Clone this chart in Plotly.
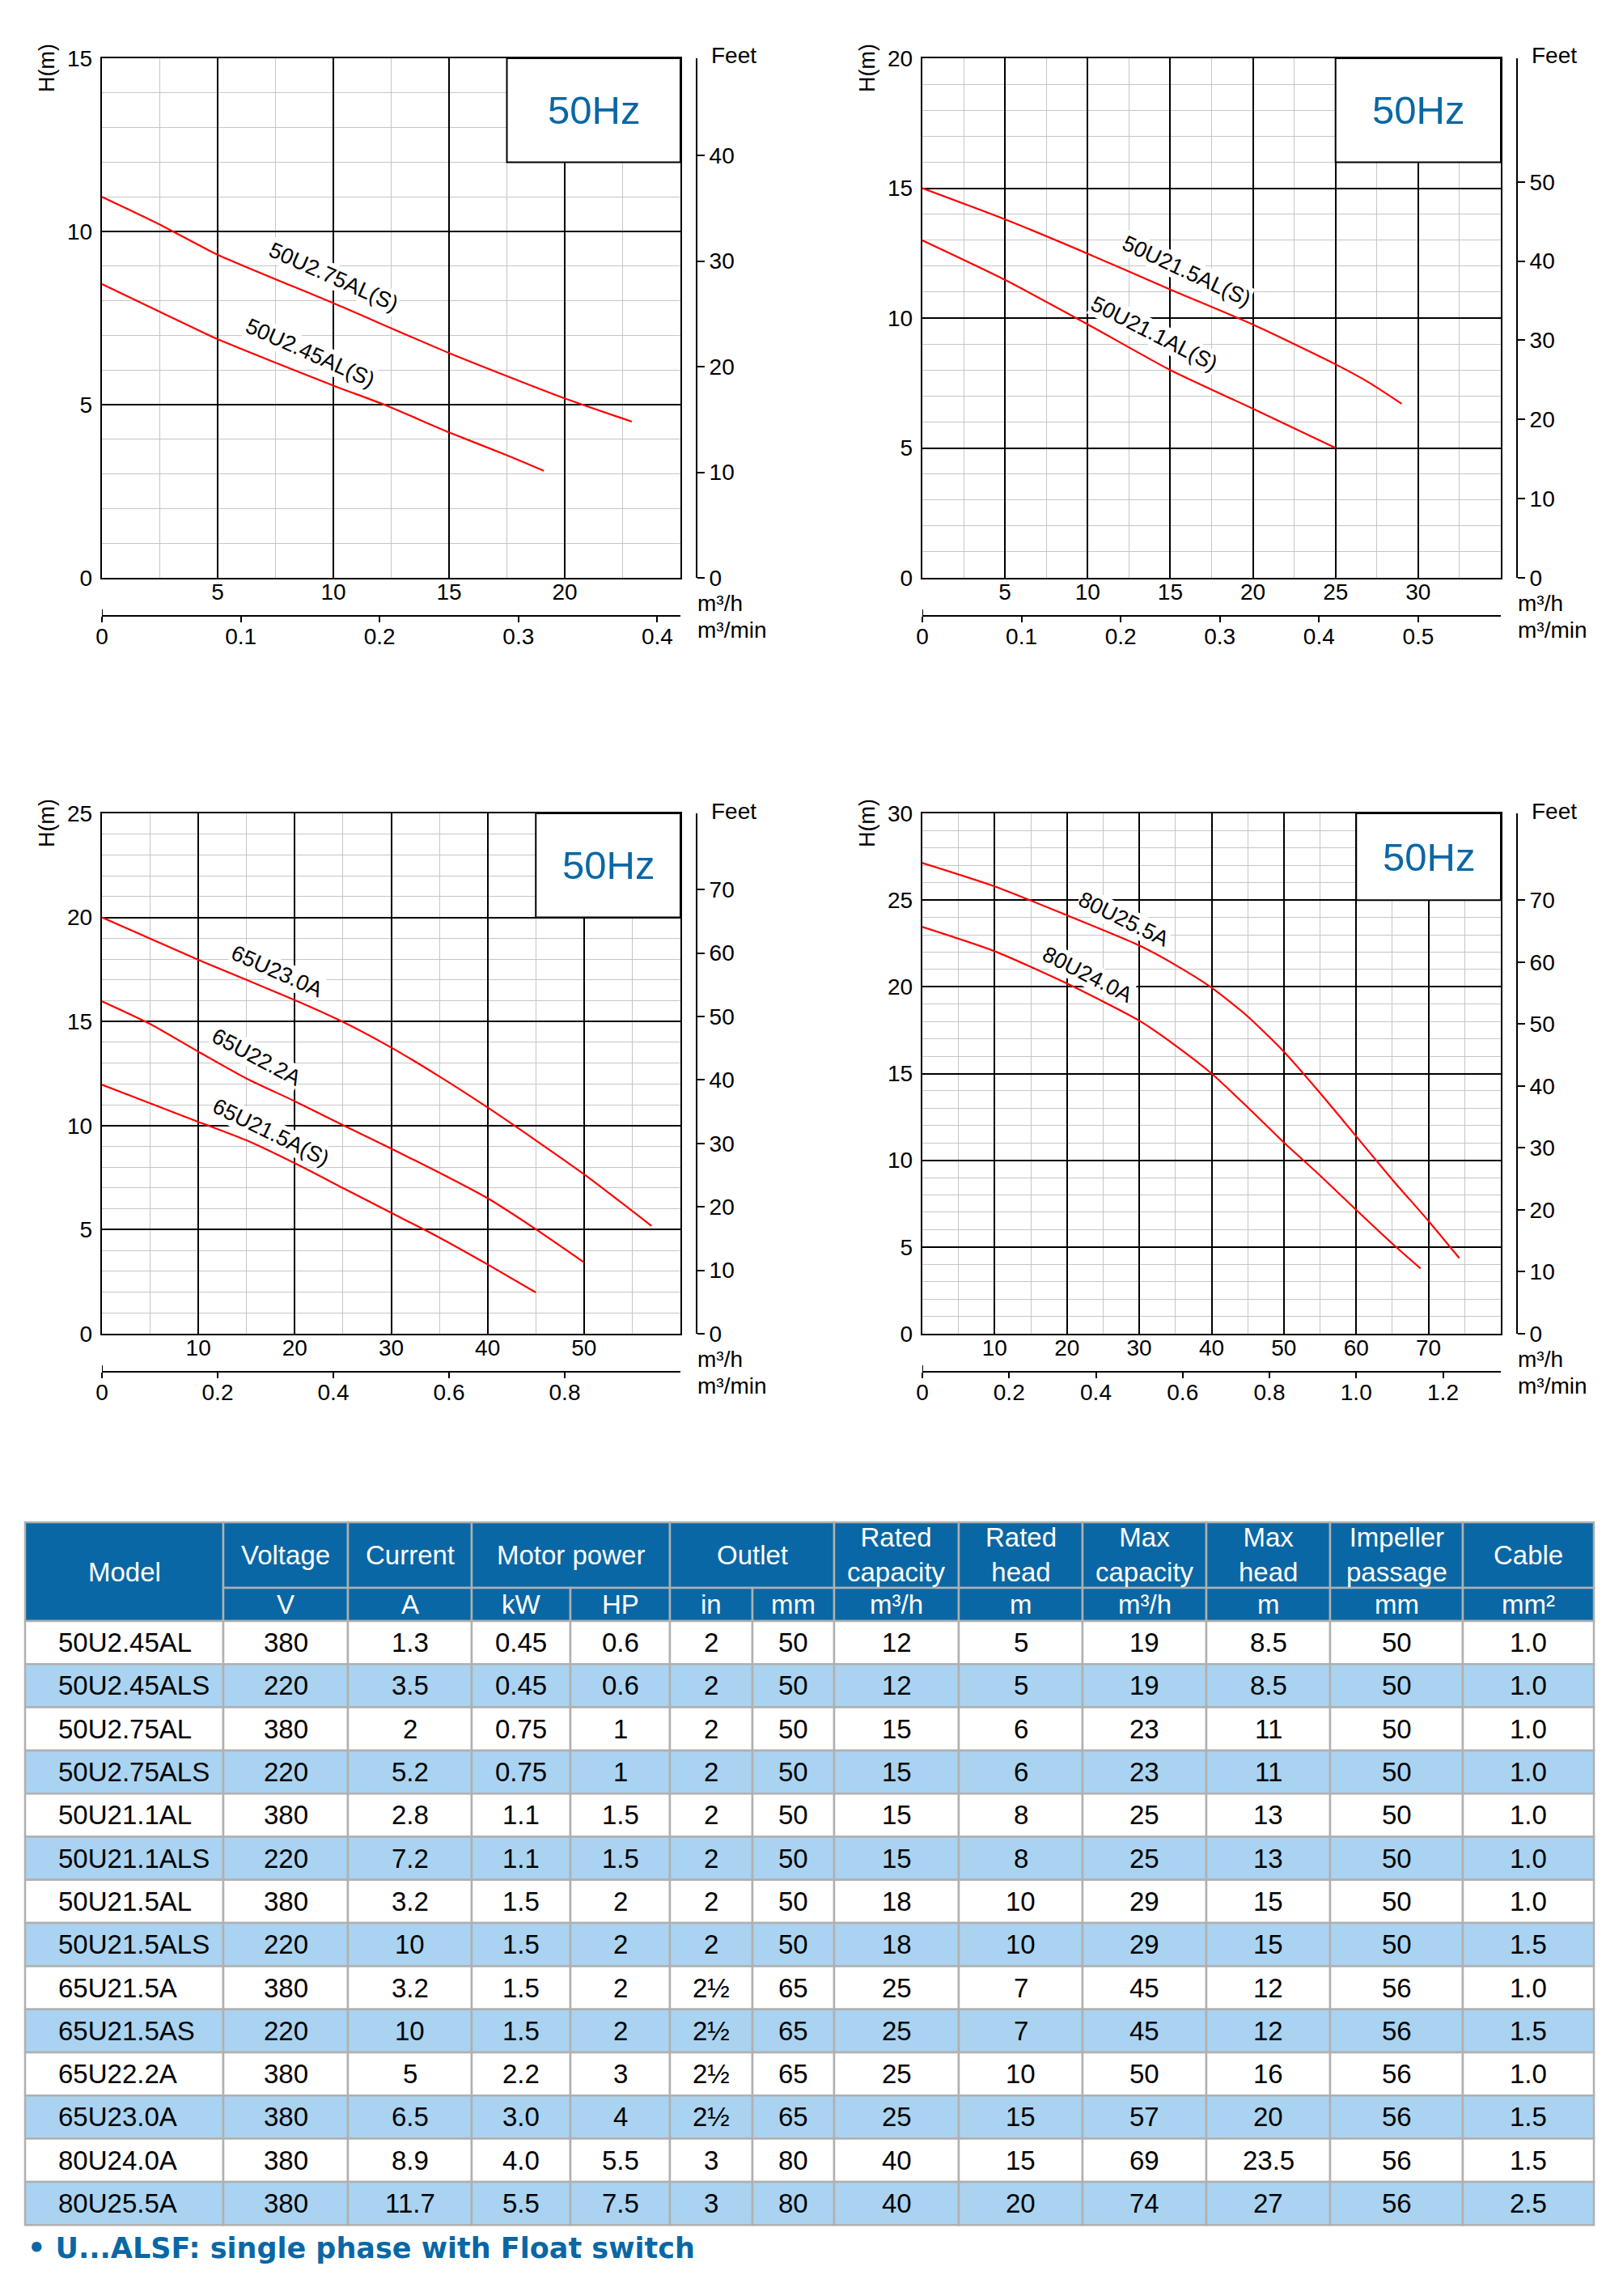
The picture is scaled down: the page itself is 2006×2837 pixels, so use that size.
import plotly.graph_objects as go

# ---------------------------------------------------------------- curve data
# chart 1 : 50U2 series
Q_50U275 = [0, 2.5, 5, 10, 15, 20, 22.9]
H_50U275 = [11.0, 10.2, 9.33, 7.93, 6.49, 5.18, 4.51]
Q_50U245 = [0, 2.5, 5, 10, 12.2, 15, 17.5, 19.1]
H_50U245 = [8.48, 7.68, 6.89, 5.55, 5.0, 4.2, 3.54, 3.09]

# chart 2 : 50U21 series
Q_50U215 = [0, 5, 10, 15, 20, 25, 27.1, 29.0]
H_50U215 = [15.0, 13.8, 12.48, 11.1, 9.75, 8.22, 7.49, 6.7]
Q_50U211 = [0, 5, 10, 15, 20, 25]
H_50U211 = [12.99, 11.47, 9.76, 8.0, 6.51, 5.0]

# chart 3 : 65U2 series
Q_65U230 = [0, 10, 20, 25, 30, 35, 40, 45, 50, 57.0]
H_65U230 = [20.0, 17.96, 16.03, 14.98, 13.75, 12.36, 10.87, 9.29, 7.66, 5.18]
Q_65U222 = [0, 5, 10, 15, 20, 25, 30, 35, 40, 45, 50]
H_65U222 = [15.97, 14.88, 13.55, 12.26, 11.17, 10.02, 8.89, 7.74, 6.51, 5.02, 3.43]
Q_65U215 = [0, 5, 10, 15, 20, 25, 30, 35, 40, 45]
H_65U215 = [11.96, 11.07, 10.18, 9.29, 8.19, 7.0, 5.81, 4.62, 3.33, 1.98]

# chart 4 : 80U2 series
Q_80U255 = [0, 10, 20, 30, 35, 40, 45, 50, 55, 60, 65, 70, 74.25]
H_80U255 = [27.14, 25.79, 24.12, 22.38, 21.26, 19.95, 18.29, 16.26, 13.88, 11.38, 8.88, 6.5, 4.36]
Q_80U240 = [0, 10, 20, 30, 35, 40, 45, 50, 55, 60, 65, 68.9]
H_80U240 = [23.45, 22.05, 20.19, 18.05, 16.62, 15.0, 13.05, 11.02, 9.12, 7.14, 5.19, 3.76]

CURVE_NAMES = [
    ["50U2.75AL(S)", "50U2.45AL(S)"],
    ["50U21.5AL(S)", "50U21.1AL(S)"],
    ["65U23.0A", "65U22.2A", "65U21.5A(S)"],
    ["80U25.5A", "80U24.0A"],
]
CURVES = [
    [(Q_50U275, H_50U275), (Q_50U245, H_50U245)],
    [(Q_50U215, H_50U215), (Q_50U211, H_50U211)],
    [(Q_65U230, H_65U230), (Q_65U222, H_65U222), (Q_65U215, H_65U215)],
    [(Q_80U255, H_80U255), (Q_80U240, H_80U240)],
]

# axis ranges and tick labels
Q_MAX = [25, 35, 60, 80]
H_MAX = [15, 20, 25, 30]
Q_TICKS = [[5, 10, 15, 20], [5, 10, 15, 20, 25, 30], [10, 20, 30, 40, 50], [10, 20, 30, 40, 50, 60, 70]]
H_DTICK = [5, 5, 5, 5]
MIN_TICKS = [
    ["0", "0.1", "0.2", "0.3", "0.4"],
    ["0", "0.1", "0.2", "0.3", "0.4", "0.5"],
    ["0", "0.2", "0.4", "0.6", "0.8"],
    ["0", "0.2", "0.4", "0.6", "0.8", "1.0", "1.2"],
]
FEET_TICKS = [
    [0, 10, 20, 30, 40],
    [0, 10, 20, 30, 40, 50],
    [0, 10, 20, 30, 40, 50, 60, 70],
    [0, 10, 20, 30, 40, 50, 60, 70],
]
FEET_PER_M = [3.2808, 3.2808, 3.2808, 2.8]  # chart 4 scale as printed

# ---------------------------------------------------------------- table data
MODELS = ["50U2.45AL", "50U2.45ALS", "50U2.75AL", "50U2.75ALS", "50U21.1AL", "50U21.1ALS",
          "50U21.5AL", "50U21.5ALS", "65U21.5A", "65U21.5AS", "65U22.2A", "65U23.0A",
          "80U24.0A", "80U25.5A"]
VOLTAGE = ["380", "220", "380", "220", "380", "220", "380", "220", "380", "220", "380", "380", "380", "380"]
CURRENT = ["1.3", "3.5", "2", "5.2", "2.8", "7.2", "3.2", "10", "3.2", "10", "5", "6.5", "8.9", "11.7"]
POWER_KW = ["0.45", "0.45", "0.75", "0.75", "1.1", "1.1", "1.5", "1.5", "1.5", "1.5", "2.2", "3.0", "4.0", "5.5"]
POWER_HP = ["0.6", "0.6", "1", "1", "1.5", "1.5", "2", "2", "2", "2", "3", "4", "5.5", "7.5"]
OUTLET_IN = ["2", "2", "2", "2", "2", "2", "2", "2", "2½", "2½", "2½", "2½", "3", "3"]
OUTLET_MM = ["50", "50", "50", "50", "50", "50", "50", "50", "65", "65", "65", "65", "80", "80"]
RATED_CAP = ["12", "12", "15", "15", "15", "15", "18", "18", "25", "25", "25", "25", "40", "40"]
RATED_HEAD = ["5", "5", "6", "6", "8", "8", "10", "10", "7", "7", "10", "15", "15", "20"]
MAX_CAP = ["19", "19", "23", "23", "25", "25", "29", "29", "45", "45", "50", "57", "69", "74"]
MAX_HEAD = ["8.5", "8.5", "11", "11", "13", "13", "15", "15", "12", "12", "16", "20", "23.5", "27"]
IMPELLER = ["50", "50", "50", "50", "50", "50", "50", "50", "56", "56", "56", "56", "56", "56"]
CABLE = ["1.0", "1.0", "1.0", "1.0", "1.0", "1.0", "1.0", "1.5", "1.0", "1.5", "1.0", "1.5", "1.5", "2.5"]
TABLE_COLUMNS = [MODELS, VOLTAGE, CURRENT, POWER_KW, POWER_HP, OUTLET_IN, OUTLET_MM,
                 RATED_CAP, RATED_HEAD, MAX_CAP, MAX_HEAD, IMPELLER, CABLE]

HEADER_LABELS = ["Model", "Voltage", "Current", "Motor power", "Outlet", "Rated<br>capacity",
                 "Rated<br>head", "Max<br>capacity", "Max<br>head", "Impeller<br>passage", "Cable"]
HEADER_UNITS = ["", "V", "A", "kW", "HP", "in", "mm", "m³/h", "m", "m³/h", "m", "mm", "mm²"]
FOOTNOTE = "• U...ALSF: single phase with Float switch"

# ---------------------------------------------------------------- layout / style
PAGE_W, PAGE_H = 2006, 2837
BODY_MARGIN = 8  # default html body margin around the plot div
FIG_W, FIG_H = PAGE_W - 2 * BODY_MARGIN, PAGE_H - 2 * BODY_MARGIN
FONT = "Liberation Sans, Arial, sans-serif"
RED = "#ff0000"
BLUE = "#0a67a5"
LIGHT_BLUE = "#a9d3f0"
GRID_GREY = "#c6c6c6"
CELL_LINE = "#b0b0b0"

# plot areas in page pixels: left, top, right, bottom
PLOT_BOXES = [(126, 72, 841, 714), (1140, 72, 1855, 714), (126, 1005, 841, 1648), (1140, 1005, 1855, 1648)]
Q_MINOR = [2.5, 2.5, 5, 5]
HZ_BOX = [(17.5, 25, 12, 15), (25, 35, 16, 20), (45, 60, 20, 25), (60, 80, 25, 30)]
LABEL_POS = [
    [(10.0, 8.7, 24), (9.0, 6.5, 24)],
    [(16.0, 11.8, 25), (14.0, 9.4, 27)],
    [(18.1, 17.4, 24), (16.0, 13.3, 28), (17.5, 9.7, 26)],
    [(27.9, 23.9, 26), (22.8, 20.7, 27)],
]

# table geometry (page pixels)
COL_W = [245, 154, 153, 122, 123, 102, 101, 154, 153, 153, 153, 164, 162]
HEADER_SPANS = [(0, 1), (1, 2), (2, 3), (3, 5), (5, 7), (7, 8), (8, 9), (9, 10), (10, 11), (11, 12), (12, 13)]
TABLE_X0, TABLE_Y0 = 31, 1881
HEAD1_H, HEAD2_H, ROW_H = 81, 41, 53.3


def px(x):
    return (x - BODY_MARGIN) / FIG_W


def py(y):
    return 1 - (y - BODY_MARGIN) / FIG_H


def paper_text(x, y, s, size=28, color="black", xanchor="center", angle=0, family=FONT):
    return dict(xref="paper", yref="paper", x=px(x), y=py(y), text=s, textangle=angle,
                xanchor=xanchor, yanchor="middle", showarrow=False,
                font=dict(family=family, size=size, color=color))


fig = go.Figure()
layout = {}
shapes = []
annotations = []

for k in range(4):
    left, top, right, bottom = PLOT_BOXES[k]
    xa, ya = f"x{k + 1}", f"y{k + 1}"
    xm, yf = f"x{k + 5}", f"y{k + 5}"
    xdom = [px(left), px(right)]
    ydom = [py(bottom), py(top)]

    for (q, h), name in zip(CURVES[k], CURVE_NAMES[k]):
        fig.add_trace(go.Scatter(
            x=q, y=h, mode="lines", name=name, xaxis=xa, yaxis=ya,
            line=dict(color=RED, width=2.2, shape="spline", smoothing=0.6),
            showlegend=False, hoverinfo="skip",
        ))
    # carriers for the secondary scales
    fig.add_trace(go.Scatter(x=[None], y=[None], xaxis=xm, yaxis=ya, showlegend=False, hoverinfo="skip"))
    fig.add_trace(go.Scatter(x=[None], y=[None], xaxis=xa, yaxis=yf, showlegend=False, hoverinfo="skip"))

    tick_font = dict(family=FONT, size=28, color="black")
    layout[f"xaxis{k + 1}"] = dict(
        domain=xdom, anchor=ya, range=[0, Q_MAX[k]], tickmode="array", tickvals=Q_TICKS[k],
        showgrid=True, gridcolor="black", gridwidth=1.8,
        minor=dict(tick0=0, dtick=Q_MINOR[k], showgrid=True, gridcolor=GRID_GREY, gridwidth=1.2),
        showline=True, linecolor="black", linewidth=2.4, mirror=True, ticks="",
        ticklabelstandoff=-9, tickfont=tick_font, zeroline=False, fixedrange=True, automargin=False,
    )
    layout[f"yaxis{k + 1}"] = dict(
        domain=ydom, anchor=xa, range=[0, H_MAX[k]], tick0=0, dtick=H_DTICK[k],
        showgrid=True, gridcolor="black", gridwidth=1.8,
        minor=dict(tick0=0, dtick=1, showgrid=True, gridcolor=GRID_GREY, gridwidth=1.2),
        showline=True, linecolor="black", linewidth=2.4, mirror=True, ticks="",
        ticklabelstandoff=4, tickfont=tick_font, zeroline=False, fixedrange=True, automargin=False,
    )
    min_vals = [float(t) for t in MIN_TICKS[k]]
    layout[f"xaxis{k + 5}"] = dict(
        overlaying=xa, anchor="free", position=py(bottom + 47), side="bottom",
        range=[0, Q_MAX[k] / 60], tickmode="array", tickvals=min_vals, ticktext=MIN_TICKS[k],
        showline=True, linecolor="black", linewidth=2.4, ticks="outside", ticklen=7, tickwidth=2,
        tickcolor="black", showgrid=False, zeroline=False, tickfont=tick_font, fixedrange=True,
        ticklabelstandoff=-7, automargin=False,
    )
    layout[f"yaxis{k + 5}"] = dict(
        overlaying=ya, anchor="free", position=px(right + 20), side="right",
        range=[0, H_MAX[k] * FEET_PER_M[k]], tickmode="array", tickvals=FEET_TICKS[k],
        showline=True, linecolor="black", linewidth=2, ticks="outside", ticklen=9, tickwidth=2,
        tickcolor="black", showgrid=False, zeroline=False, tickfont=tick_font, fixedrange=True,
        automargin=False,
    )
    # small upward end tick at the start of the m3/min scale
    shapes.append(dict(type="line", xref=xm, yref="paper", x0=0, x1=0,
                       y0=py(bottom + 47), y1=py(bottom + 39), line=dict(color="black", width=2)))

    # 50Hz box
    bx0, bx1, by0, by1 = HZ_BOX[k]
    shapes.append(dict(type="rect", xref=xa, yref=ya, x0=bx0, x1=bx1, y0=by0, y1=by1,
                       fillcolor="white", line=dict(color="black", width=2), layer="above"))
    annotations.append(dict(xref=xa, yref=ya, x=(bx0 + bx1) / 2, y=(by0 + by1) / 2, text="50Hz",
                            xanchor="center", yanchor="middle",
                            showarrow=False, font=dict(family=FONT, size=49, color=BLUE)))

    # curve labels
    for name, (lq, lh, ang) in zip(CURVE_NAMES[k], LABEL_POS[k]):
        annotations.append(dict(xref=xa, yref=ya, x=lq, y=lh, text=name, textangle=ang,
                                xanchor="center", yanchor="middle",
                                showarrow=False, bgcolor="white", borderpad=0,
                                font=dict(family=FONT, size=27, color="black")))

    # axis titles
    annotations.append(paper_text(left - 68, top + 12, "H(m)", size=27, angle=-90))
    annotations.append(paper_text(right + 36, top - 3, "Feet", xanchor="left"))
    annotations.append(paper_text(right + 19, bottom + 31, "m³/h", xanchor="left"))
    annotations.append(paper_text(right + 19, bottom + 64, "m³/min", xanchor="left"))

# ---------------------------------------------------------------- table
col_edges = [TABLE_X0]
for w in COL_W:
    col_edges.append(col_edges[-1] + w)
head_mid = TABLE_Y0 + HEAD1_H
data_top = head_mid + HEAD2_H


def cell(x0, y0, x1, y1, fill):
    shapes.append(dict(type="rect", xref="paper", yref="paper", x0=px(x0), x1=px(x1), y0=py(y1), y1=py(y0),
                       fillcolor=fill, line=dict(color=CELL_LINE, width=2.5), layer="above"))


for label, (c0, c1) in zip(HEADER_LABELS, HEADER_SPANS):
    y1 = data_top if c0 == 0 else head_mid
    cell(col_edges[c0], TABLE_Y0, col_edges[c1], y1, BLUE)
    annotations.append(paper_text((col_edges[c0] + col_edges[c1]) / 2, (TABLE_Y0 + y1) / 2, label,
                                  size=33, color="white"))

for c, unit in enumerate(HEADER_UNITS):
    if c == 0:
        continue
    cell(col_edges[c], head_mid, col_edges[c + 1], data_top, BLUE)
    annotations.append(paper_text((col_edges[c] + col_edges[c + 1]) / 2, (head_mid + data_top) / 2, unit,
                                  size=33, color="white"))

for r in range(len(MODELS)):
    y0 = data_top + r * ROW_H
    fill = "white" if r % 2 == 0 else LIGHT_BLUE
    for c, column in enumerate(TABLE_COLUMNS):
        cell(col_edges[c], y0, col_edges[c + 1], y0 + ROW_H, fill)
        if c == 0:
            annotations.append(paper_text(col_edges[0] + 39, y0 + ROW_H / 2, column[r], size=33,
                                          xanchor="left"))
        else:
            annotations.append(paper_text((col_edges[c] + col_edges[c + 1]) / 2, y0 + ROW_H / 2,
                                          column[r], size=33))

table_bottom = data_top + len(MODELS) * ROW_H
annotations.append(paper_text(TABLE_X0 + 1, table_bottom + 29, f"<b>{FOOTNOTE}</b>", size=35, color=BLUE,
                              xanchor="left", family="DejaVu Sans, Liberation Sans, sans-serif"))

fig.update_layout(
    width=FIG_W, height=FIG_H,
    margin=dict(l=0, r=0, t=0, b=0, autoexpand=False),
    paper_bgcolor="white", plot_bgcolor="white",
    showlegend=False,
    font=dict(family=FONT, size=28, color="black"),
    shapes=shapes, annotations=annotations,
    **layout,
)

fig.write_html("out.html")
